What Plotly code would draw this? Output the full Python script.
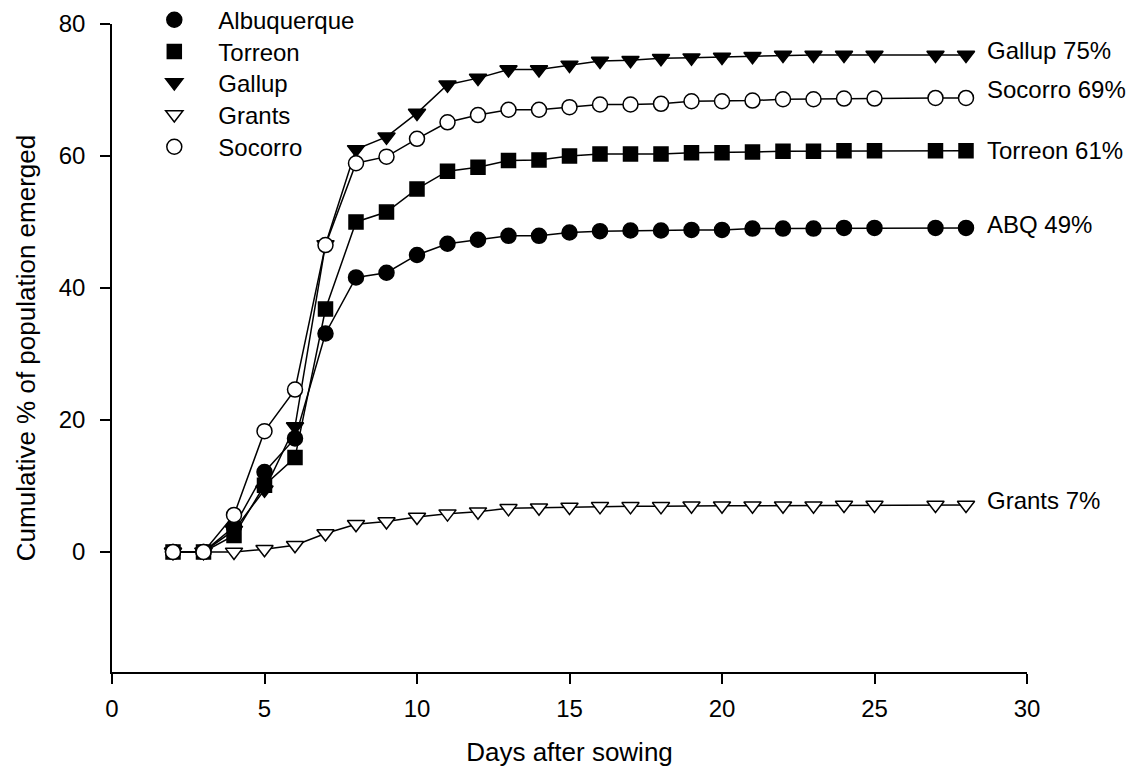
import plotly.graph_objects as go

days = [2, 3, 4, 5, 6, 7, 8, 9, 10, 11, 12, 13, 14, 15, 16, 17, 18, 19, 20, 21, 22, 23, 24, 25, 27, 28]

albuquerque = [0, 0, 3.8, 12.1, 17.2, 33.1, 41.6, 42.3, 45.0, 46.7, 47.3, 47.9, 47.9, 48.4, 48.6, 48.7,
               48.7, 48.8, 48.8, 49.0, 49.0, 49.0, 49.1, 49.1, 49.1, 49.1]
torreon = [0, 0, 2.5, 10.1, 14.3, 36.8, 50.0, 51.5, 55.0, 57.7, 58.3, 59.3, 59.4, 60.0, 60.3, 60.3,
           60.3, 60.5, 60.5, 60.6, 60.7, 60.7, 60.8, 60.8, 60.8, 60.8]
gallup = [0, 0, 3.3, 9.4, 19.0, 46.6, 61.0, 62.9, 66.5, 70.8, 71.8, 73.1, 73.1, 73.8, 74.4, 74.5,
          74.8, 74.9, 75.0, 75.1, 75.3, 75.3, 75.3, 75.3, 75.3, 75.3]
grants = [0, 0, 0, 0.4, 1.0, 2.8, 4.2, 4.6, 5.3, 5.8, 6.1, 6.6, 6.7, 6.8, 6.9, 6.9,
          6.9, 7.0, 7.0, 7.0, 7.0, 7.0, 7.1, 7.1, 7.1, 7.1]
socorro = [0, 0, 5.6, 18.3, 24.6, 46.5, 58.9, 59.9, 62.6, 65.1, 66.2, 67.0, 67.0, 67.4, 67.8, 67.8,
           67.9, 68.3, 68.3, 68.4, 68.6, 68.6, 68.7, 68.7, 68.8, 68.8]

series_names = ["Albuquerque", "Torreon", "Gallup", "Grants", "Socorro"]
series_values = [albuquerque, torreon, gallup, grants, socorro]
end_labels = ["ABQ 49%", "Torreon 61%", "Gallup 75%", "Grants 7%", "Socorro 69%"]

x_ticks = [0, 5, 10, 15, 20, 25, 30]
y_ticks = [0, 20, 40, 60, 80]

symbols = ["circle", "square", "triangle-down", "triangle-down", "circle"]
fills = ["black", "black", "black", "white", "white"]
sizes = [15, 14, 15, 15, 15]
label_yshift = [3, 0, 5, 5, 8]
legend_y = [1.006, 0.957, 0.909, 0.8596, 0.810]

FONT = "Liberation Sans, Arial, sans-serif"

fig = go.Figure()
for name, vals, sym, fill, sz in zip(series_names, series_values, symbols, fills, sizes):
    fig.add_trace(go.Scatter(
        x=days, y=vals, mode="lines+markers", name=name, showlegend=False,
        line=dict(color="black", width=1.5),
        marker=dict(symbol=sym, size=sz, color=fill,
                    line=dict(color="black", width=1.5)),
    ))

legend_layout = {}
for i, (name, sym, fill, sz, ly) in enumerate(zip(series_names, symbols, fills, sizes, legend_y)):
    key = "legend" if i == 0 else f"legend{i + 1}"
    fig.add_trace(go.Scatter(
        x=[None], y=[None], mode="markers", name=name, showlegend=True, legend=key,
        marker=dict(symbol=sym, size=sz, color=fill,
                    line=dict(color="black", width=1.5)),
    ))
    legend_layout[key] = dict(x=0.02, y=ly, xanchor="left", yanchor="middle",
                              bgcolor="rgba(0,0,0,0)", font=dict(family=FONT, size=24),
                              itemsizing="trace", itemwidth=78)

for vals, lab, ys in zip(series_values, end_labels, label_yshift):
    fig.add_annotation(x=days[-1], y=vals[-1], xref="x", yref="y", text=lab,
                       showarrow=False, xanchor="left", yanchor="middle",
                       xshift=19, yshift=ys, font=dict(family=FONT, size=24, color="black"))

fig.update_layout(
    width=1143, height=782,
    margin=dict(l=112, r=116, t=24, b=110, autoexpand=False),
    paper_bgcolor="white", plot_bgcolor="white",
    font=dict(family=FONT, size=24, color="black"),
    xaxis=dict(range=[0, 30], tickvals=x_ticks, showgrid=False, zeroline=False,
               showline=True, linecolor="black", linewidth=1.5,
               ticks="outside", ticklen=10, tickwidth=1.5, tickcolor="black",
               ticklabelstandoff=4,
               title=dict(text="Days after sowing", font=dict(family=FONT, size=26), standoff=22)),
    yaxis=dict(range=[-18.2, 80], tickvals=y_ticks, showgrid=False, zeroline=False,
               showline=True, linecolor="black", linewidth=1.5,
               ticks="outside", ticklen=10, tickwidth=1.5, tickcolor="black",
               ticklabelstandoff=10,
               title=dict(text="Cumulative % of population emerged",
                          font=dict(family=FONT, size=26), standoff=16)),
    **legend_layout,
)

fig.write_html("out.html")
